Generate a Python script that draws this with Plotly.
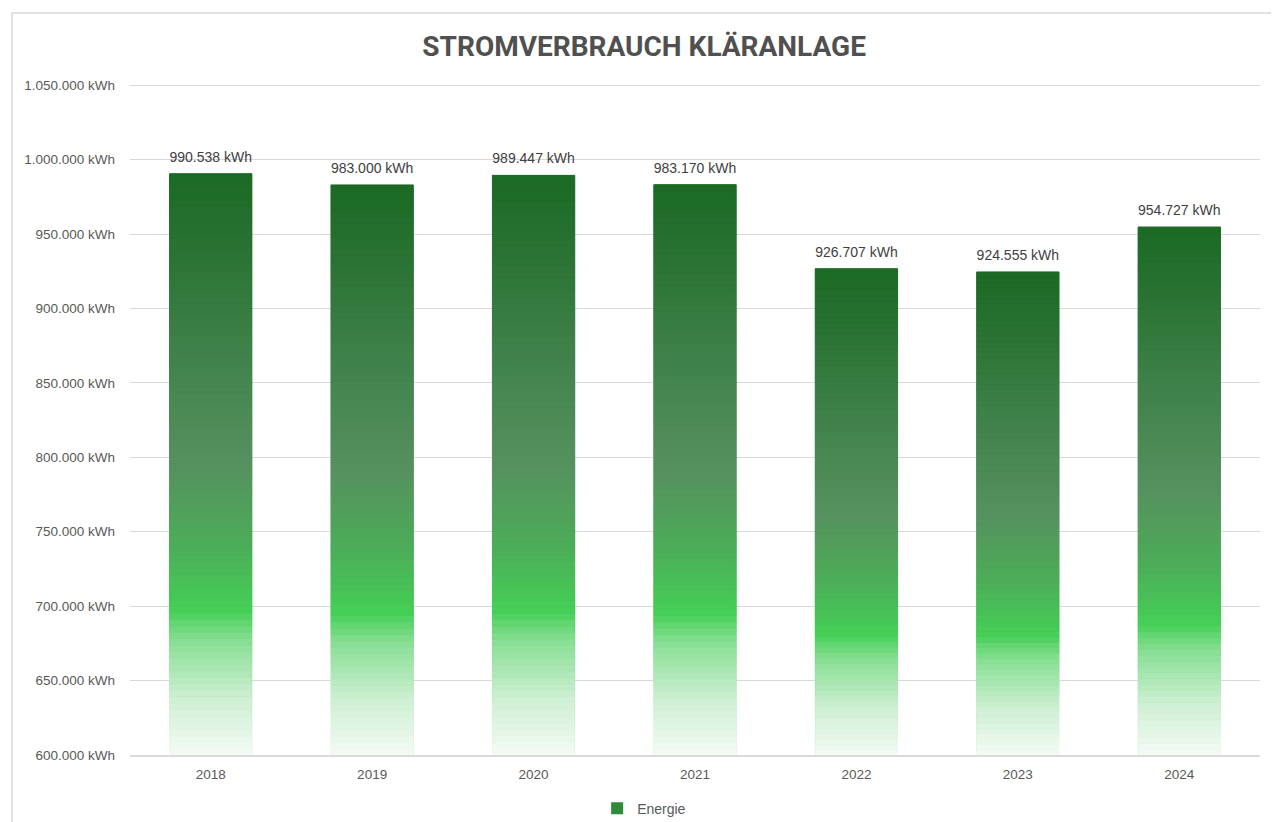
import plotly.graph_objects as go
from plotly.colors import sample_colorscale

# Data
years = ["2018", "2019", "2020", "2021", "2022", "2023", "2024"]
energy_kwh = [990538, 983000, 989447, 983170, 926707, 924555, 954727]
series_name = "Energie"
chart_title = "STROMVERBRAUCH KLÄRANLAGE"

AXIS_MIN = 600000
AXIS_MAX = 1050000
N_SEGMENTS = 90

# gradient from bar foot (0) to bar top (1)
bar_gradient = [
    [0.00, "#f4fbf5"],
    [0.10, "#cdefd2"],
    [0.20, "#86de92"],
    [0.25, "#45cf57"],
    [0.36, "#4cad58"],
    [0.50, "#56915f"],
    [0.70, "#3f814a"],
    [0.86, "#2b7334"],
    [1.00, "#1b6a25"],
]

fig = go.Figure()

# solid bar only carries the legend entry; the gradient slices cover it
fig.add_trace(go.Bar(
    x=years, y=energy_kwh, name=series_name,
    marker=dict(color="#2f8a3a", line=dict(width=0)),
    hoverinfo="skip",
))

seg_colors = sample_colorscale(bar_gradient, [(k + 0.5) / N_SEGMENTS for k in range(N_SEGMENTS)])
heights = [(v - AXIS_MIN) / N_SEGMENTS for v in energy_kwh]
for k in range(N_SEGMENTS):
    fig.add_trace(go.Bar(
        x=years,
        y=heights,
        base=[AXIS_MIN + k * h for h in heights],
        # a 1px outline in the same colour hides the seams between slices
        marker=dict(color=seg_colors[k], line=dict(width=1, color=seg_colors[k])),
        showlegend=False,
        hoverinfo="skip",
    ))

# value labels
fig.add_trace(go.Scatter(
    x=years, y=energy_kwh, mode="markers+text",
    marker=dict(size=12, opacity=0),
    text=[f"{v:,}".replace(",", ".") + " kWh" for v in energy_kwh],
    textposition="top center",
    textfont=dict(family="Liberation Sans, Arial", size=14, color="#404040"),
    showlegend=False, hoverinfo="skip",
))

# the page adds an 8px body margin, so margins are shifted by that
fig.update_layout(
    width=1279, height=822,
    barmode="overlay",
    bargap=0.49,
    separators=",.",
    paper_bgcolor="white",
    plot_bgcolor="white",
    margin=dict(l=122, r=27, t=75, b=75, autoexpand=False),
    font=dict(family="Liberation Sans, Arial", size=13.5, color="#595959"),
    title=dict(
        text=f"<b>{chart_title}</b>",
        x=0.455, xref="paper", xanchor="center",
        y=1 - 38 / 822, yanchor="middle",
        font=dict(family="Roboto", size=28, color="#505050"),
    ),
    legend=dict(
        orientation="h", x=0.455, xanchor="center", y=-0.08, yanchor="middle",
        font=dict(family="Liberation Sans, Arial", size=14, color="#595959"),
        itemwidth=30,
    ),
    xaxis=dict(
        type="category",
        showline=True, linecolor="#d9d9d9", linewidth=2,
        showgrid=False, ticks="", ticklabelstandoff=6,
    ),
    yaxis=dict(
        # a little above the top tick so its grid line is still drawn
        range=[AXIS_MIN, AXIS_MAX + 1500],
        tick0=AXIS_MIN,
        dtick=50000,
        tickformat=",.0f",
        ticksuffix=" kWh",
        showgrid=True, gridcolor="#d9d9d9", gridwidth=1,
        zeroline=False, showline=False, ticks="",
        ticklabelstandoff=14,
    ),
    shapes=[dict(
        type="rect", xref="paper", yref="paper",
        x0=-0.1044, x1=1.05, y0=-0.2, y1=1.104,
        line=dict(color="#d9d9d9", width=1.5),
        fillcolor="rgba(0,0,0,0)", layer="below",
    )],
)

fig.write_html("out.html")
